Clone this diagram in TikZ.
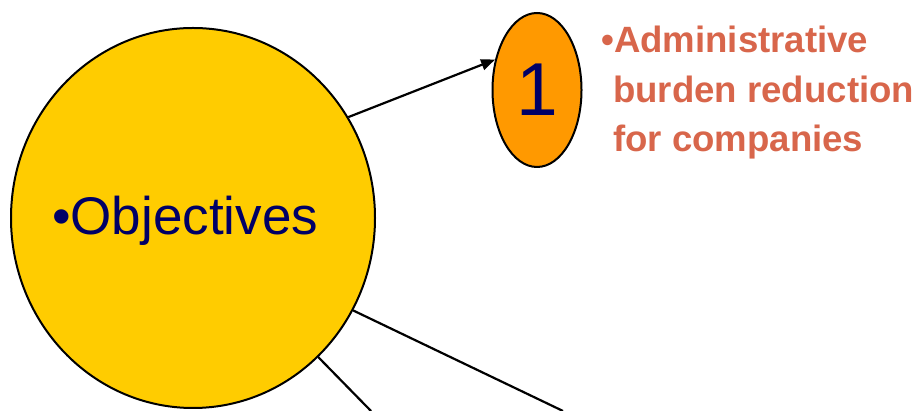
\documentclass[tikz,border=0pt]{standalone}
\usepackage{fontspec}
\setmainfont{Liberation Sans}
\usetikzlibrary{shapes.geometric,arrows.meta}
\definecolor{sunyellow}{HTML}{FFCC00}
\definecolor{orangefill}{HTML}{FF9900}
\definecolor{navytext}{HTML}{000066}
\definecolor{rusttext}{HTML}{D8664B}
\tikzset{
  bubble/.style={ellipse, draw=black, line width=2pt, inner sep=0pt},
  link/.style={draw=black, line width=2.2pt},
}
\begin{document}
\begin{tikzpicture}[x=1pt,y=1pt]
\useasboundingbox (0,0) rectangle (923,411);
\node[bubble, fill=sunyellow, minimum width=364pt, minimum height=380pt] (big) at (193,193) {};
\node[anchor=base west, text=navytext, font=\fontsize{53}{60}\selectfont, inner sep=0pt] (obj) at (52,176) {•Objectives};
\node[bubble, fill=orangefill, minimum width=89pt, minimum height=154pt, text=navytext, font=\fontsize{75}{80}\selectfont] (one) at (537,321) {1};
\node[anchor=north west, text=rusttext, font=\bfseries\fontsize{36.6}{49.5}\selectfont, align=left, inner sep=0pt] (txt) at (601,385)
  {•Administrative\\\hspace*{12pt}burden reduction\\\hspace*{12pt}for companies};
\coordinate (endA) at (563,0);
\coordinate (endB) at (371,0);
\draw[link, -{Triangle[length=14pt,width=11pt]}] (big.33) -- (one.144.5);
\draw[link] (big.-30.3) -- (endA);
\draw[link] (big.-48.6) -- (endB);
\end{tikzpicture}
\end{document}
